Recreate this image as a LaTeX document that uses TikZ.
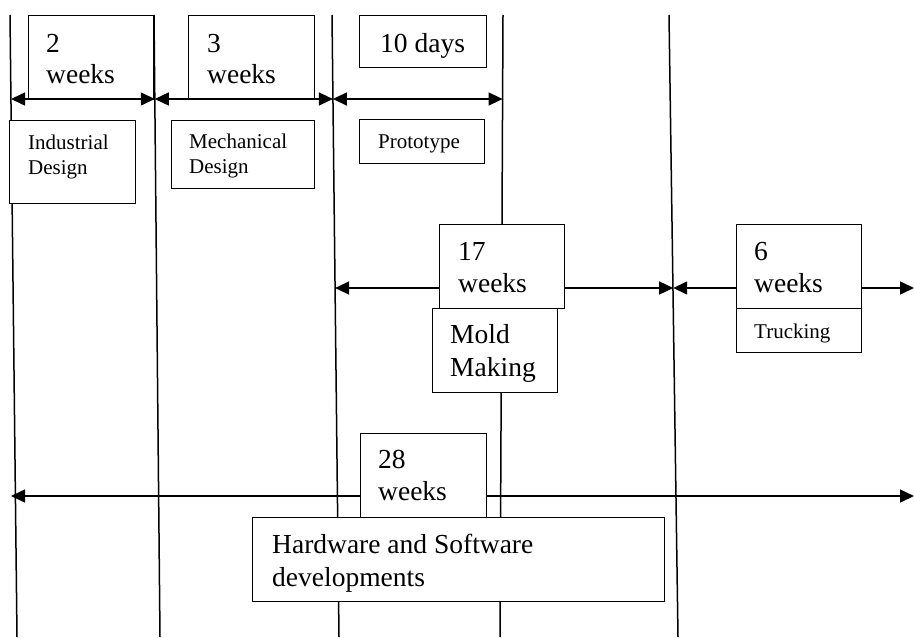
\documentclass[tikz,border=0pt]{standalone}
\usepackage{fontspec}
\setmainfont{Liberation Serif}
\usetikzlibrary{arrows.meta}
\begin{document}
\begin{tikzpicture}[x=1pt,y=-1pt,
  rule/.style={line width=1.5pt},
  span/.style={line width=1.5pt},
  tip/.tip={Triangle[length=14pt,width=13pt]},
  both/.style={span,{tip}-{tip}},
  right/.style={span,-{tip}},
  box/.style={draw,line width=1.4pt,fill=white,rectangle,inner sep=0pt,anchor=north west},
  big/.style={font=\fontsize{27.5}{31}\selectfont,inner sep=0pt,anchor=base west},
  small/.style={font=\fontsize{21}{25}\selectfont,inner sep=0pt,anchor=base west}]
\useasboundingbox (0,0) rectangle (915,637);

% phase boundaries
\coordinate (l1t) at (10,15);  \coordinate (l1b) at (17,637);
\coordinate (l2t) at (154,15); \coordinate (l2b) at (160,637);
\coordinate (l3t) at (332,15); \coordinate (l3b) at (339,637);
\coordinate (l4t) at (503,15); \coordinate (l4b) at (500,637);
\coordinate (l5t) at (669,15); \coordinate (l5b) at (678,637);
\foreach \l in {1,...,5} \draw[rule] (l\l t) -- (l\l b);

% arrow end points on the boundaries
\coordinate (a1) at (11,99);
\coordinate (a2) at (154.8,99);
\coordinate (a3) at (332.9,99);
\coordinate (a4) at (502.6,99);
\coordinate (m3) at (335.1,288);
\coordinate (m5) at (673.2,288);
\coordinate (mr) at (914,288);
\coordinate (bl) at (11,496);
\coordinate (br) at (914,496);

% duration and task boxes
\node[box,minimum width=125pt,minimum height=84pt] (w2) at (28,15) {};
\node[box,minimum width=126pt,minimum height=84pt] (w3) at (188,15) {};
\node[box,minimum width=127pt,minimum height=52pt] (d10) at (359,15) {};
\node[box,minimum width=126pt,minimum height=83pt] (ind) at (9,120) {};
\node[box,minimum width=143pt,minimum height=68pt] (mech) at (171,120) {};
\node[box,minimum width=125pt,minimum height=44pt] (proto) at (359,119) {};

% design phase spans
\draw[both] (a1) -- (a2);
\draw[both] (a2) -- (a3);
\draw[both] (a3) -- (a4);

% tooling and shipping
\node[box,minimum width=125pt,minimum height=84pt] (w17) at (439,224) {};
\node[box,minimum width=125pt,minimum height=84pt] (mold) at (432,308) {};
\node[box,minimum width=125pt,minimum height=84pt] (w6) at (736,224) {};
\node[box,minimum width=125pt,minimum height=44pt] (truck) at (736,308) {};
\draw[right] (w17.west |- m3) -- (m3);
\draw[right] (w17.east |- m5) -- (m5);
\draw[right] (w6.west |- m5) -- (m5);
\draw[right] (w6.east |- mr) -- (mr);

% overall development span
\node[box,minimum width=126pt,minimum height=84pt] (w28) at (360,433) {};
\node[box,minimum width=412pt,minimum height=84pt] (hw) at (252,517) {};
\draw[right] (w28.west |- bl) -- (bl);
\draw[right] (w28.east |- br) -- (br);

% labels
\node[big] (t2a) at (46,52) {2};
\node[big] (t2b) at (46,83) {weeks};
\node[big] (t3a) at (207,52) {3};
\node[big] (t3b) at (207,83) {weeks};
\node[big] (t10) at (380,52) {10 days};
\node[small] (tia) at (28,149) {Industrial};
\node[small] (tib) at (28,174) {Design};
\node[small] (tma) at (189,148) {Mechanical};
\node[small] (tmb) at (189,173) {Design};
\node[small] (tp) at (378,148) {Prototype};
\node[big] (t17a) at (458,260) {17};
\node[big] (t17b) at (458,292) {weeks};
\node[big] (tmoa) at (450,343) {Mold};
\node[big] (tmob) at (450,376) {Making};
\node[big] (t6a) at (754,260) {6};
\node[big] (t6b) at (754,292) {weeks};
\node[small] (ttr) at (754,338) {Trucking};
\node[big] (t28a) at (378,468) {28};
\node[big] (t28b) at (378,500) {weeks};
\node[big] (thwa) at (272,553) {Hardware and Software};
\node[big] (thwb) at (272,586) {developments};
\end{tikzpicture}
\end{document}
